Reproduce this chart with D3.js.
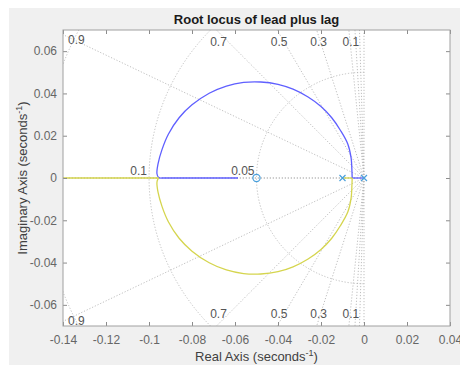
<!DOCTYPE html>
<html lang="en">
  <head>
    <meta charset="UTF-8" />
    <title>Root locus of lead plus lag</title>
    <style>
      body {
        margin: 0;
        background: #fff;
        font-family: Arial, "Liberation Sans", Helvetica, sans-serif;
      }
      .grid {
        fill: none;
        stroke: #b8b8b8;
        stroke-width: 0.9px;
        stroke-dasharray: 1.2, 1.8;
      }
      .gridlabel {
        font-size: 12px;
        fill: #555;
      }
      .tick text {
        font-size: 12px;
        fill: #666;
      }
      .tick line {
        stroke: #8c8c8c;
      }
      .locus {
        fill: none;
        stroke-width: 1.3px;
      }
    </style>
  </head>
  <body>
    <svg width="460" height="367"></svg>

    <script src="https://d3js.org/d3.v7.min.js"></script>
    <script>
      // values
      const xTicks = [-0.14, -0.12, -0.1, -0.08, -0.06, -0.04, -0.02, 0, 0.02, 0.04];
      const yTicks = [-0.06, -0.04, -0.02, 0, 0.02, 0.04, 0.06];

      const poles = [-0.01, 0];
      const zeros = [-0.05];

      // branch starting at the pole in 0 (upper half, then to the zero)
      const branch1Re = [0, -0.0055, -0.0056, -0.006, -0.0075, -0.011, -0.015, -0.02, -0.026, -0.033, -0.04, -0.048, -0.056, -0.064, -0.072, -0.08, -0.086, -0.091, -0.094, -0.0958, -0.0963, -0.0955, -0.094, -0.0586];
      const branch1Im = [0, 0, 0.003, 0.0095, 0.016, 0.0226, 0.0285, 0.0338, 0.0383, 0.042, 0.0443, 0.0454, 0.0452, 0.0435, 0.0401, 0.0346, 0.0285, 0.0207, 0.0133, 0.0067, 0.002, 0.0002, 0, 0];

      // branch starting at the pole in -0.01 (lower half, then to -inf)
      const branch2Re = [-0.01, -0.0055, -0.0056, -0.006, -0.0075, -0.011, -0.015, -0.02, -0.026, -0.033, -0.04, -0.048, -0.056, -0.064, -0.072, -0.08, -0.086, -0.091, -0.094, -0.0958, -0.0963, -0.0958, -0.0955, -0.14];
      const branch2Im = [0, 0, -0.003, -0.0095, -0.016, -0.0226, -0.0285, -0.0338, -0.0383, -0.042, -0.0443, -0.0454, -0.0452, -0.0435, -0.0401, -0.0346, -0.0285, -0.0207, -0.0133, -0.0067, -0.002, -0.0004, 0, 0];

      // sgrid
      const dampLines = [0, 0.03, 0.06, 0.1, 0.3, 0.5, 0.7, 0.9, 1];
      const dampLabels = [0.1, 0.3, 0.5, 0.7, 0.9];
      const wnLines = [0.05, 0.1, 0.15];

      const L = 63, R = 450, T = 30, B = 326;
      const svg = d3.select("svg");

      svg.append("rect")
        .attr("x", 9).attr("y", 8)
        .attr("width", 451).attr("height", 357)
        .attr("fill", "#f0f0f0");

      svg.append("rect")
        .attr("x", L).attr("y", T)
        .attr("width", R - L).attr("height", B - T)
        .attr("fill", "#fff");

      const x = d3.scaleLinear().domain([-0.14, 0.04]).range([L, R]);
      const y = d3.scaleLinear().domain([-0.07, 0.07]).range([B, T]);

      svg.append("clipPath").attr("id", "plot")
        .append("rect")
        .attr("x", L).attr("y", T)
        .attr("width", R - L).attr("height", B - T);

      const g = svg.append("g").attr("clip-path", "url(#plot)");

      // damping rays
      dampLines.forEach((z) => {
        const s = Math.sqrt(1 - z * z);
        [1, -1].forEach((sign) => {
          g.append("line")
            .attr("class", "grid")
            .attr("x1", x(0)).attr("y1", y(0))
            .attr("x2", x(-z)).attr("y2", y(sign * s));
        });
      });

      // natural frequency arcs (left half plane)
      wnLines.forEach((w) => {
        const rx = x(0) - x(-w), ry = y(0) - y(w);
        g.append("path")
          .attr("class", "grid")
          .attr("d", `M${x(0)},${y(w)} A${rx},${ry} 0 0 0 ${x(0)},${y(-w)}`);
      });

      // damping labels
      dampLabels.forEach((z) => {
        const s = Math.sqrt(1 - z * z);
        const xTop = -0.07 * z / s;
        if (xTop >= -0.14) {
          g.append("text").attr("class", "gridlabel")
            .attr("text-anchor", "middle")
            .attr("x", x(xTop) + 2).attr("y", T + 16).text(z);
          g.append("text").attr("class", "gridlabel")
            .attr("text-anchor", "middle")
            .attr("x", x(xTop) + 2).attr("y", B - 8).text(z);
        } else {
          const yHit = 0.14 * s / z;
          g.append("text").attr("class", "gridlabel")
            .attr("x", L + 5).attr("y", y(yHit) + 9).text(z);
          g.append("text").attr("class", "gridlabel")
            .attr("x", L + 5).attr("y", y(-yHit) + 4).text(z);
        }
      });

      // natural frequency labels
      wnLines.filter((w) => -w >= -0.14).forEach((w) => {
        g.append("text").attr("class", "gridlabel")
          .attr("text-anchor", "end")
          .attr("x", x(-w) - 2).attr("y", y(0) - 3).text(w);
      });

      // locus branches: straight on the real axis, smooth off it
      const straight = d3.line().x((d) => x(d[0])).y((d) => y(d[1]));
      const smooth = d3.line().x((d) => x(d[0])).y((d) => y(d[1]))
        .curve(d3.curveCatmullRom.alpha(0.5));

      function drawBranch(re, im, color) {
        const pts = d3.zip(re, im);
        const onAxis = pts.map((p) => p[1] === 0);
        // first and last index of the off-axis part
        const i0 = onAxis.indexOf(false) - 1;
        const i1 = onAxis.lastIndexOf(false) + 1;
        const parts = [
          straight(pts.slice(0, i0 + 1)),
          smooth(pts.slice(i0, i1 + 1)),
          straight(pts.slice(i1)),
        ];
        parts.forEach((d) => {
          g.append("path").attr("class", "locus")
            .attr("stroke", color).attr("d", d);
        });
      }
      drawBranch(branch1Re, branch1Im, "#5f5fff");
      drawBranch(branch2Re, branch2Im, "#d5d54e");

      // poles and zeros
      const mk = "#4aa0dc";
      g.selectAll(".pole").data(poles).join("path")
        .attr("class", "pole")
        .attr("transform", (d) => `translate(${x(d)},${y(0)})`)
        .attr("d", "M-3,-3L3,3M-3,3L3,-3")
        .attr("stroke", mk).attr("stroke-width", 1.2);
      g.selectAll(".zero").data(zeros).join("circle")
        .attr("class", "zero")
        .attr("cx", (d) => x(d)).attr("cy", y(0)).attr("r", 3.6)
        .attr("fill", "none")
        .attr("stroke", mk).attr("stroke-width", 1.2);

      // axes, MATLAB style ticks inside
      const fmt = (d) => String(Math.round(d * 100) / 100);
      svg.append("g").attr("transform", `translate(0,${B})`)
        .call(d3.axisBottom(x).tickValues(xTicks).tickSize(-4).tickPadding(9).tickFormat(fmt))
        .call((a) => a.select(".domain").remove());
      svg.append("g").attr("transform", `translate(0,${T})`)
        .call(d3.axisTop(x).tickValues(xTicks).tickSize(-4).tickFormat(""))
        .call((a) => a.select(".domain").remove());
      svg.append("g").attr("transform", `translate(${L},0)`)
        .call(d3.axisLeft(y).tickValues(yTicks).tickSize(-4).tickPadding(6).tickFormat(fmt))
        .call((a) => a.select(".domain").remove());
      svg.append("g").attr("transform", `translate(${R},0)`)
        .call(d3.axisRight(y).tickValues(yTicks).tickSize(-4).tickFormat(""))
        .call((a) => a.select(".domain").remove());

      svg.selectAll(".tick text").attr("font-family", null);

      svg.append("rect")
        .attr("x", L).attr("y", T)
        .attr("width", R - L).attr("height", B - T)
        .attr("fill", "none")
        .attr("stroke", "#a0a0a0");

      // title and axis labels
      svg.append("text")
        .attr("x", (L + R) / 2).attr("y", 24)
        .attr("text-anchor", "middle")
        .attr("font-size", 13).attr("font-weight", "bold")
        .attr("fill", "#1a1a1a")
        .text("Root locus of lead plus lag");

      const xl = svg.append("text")
        .attr("x", (L + R) / 2).attr("y", 361)
        .attr("text-anchor", "middle")
        .attr("font-size", 13).attr("fill", "#404040");
      xl.append("tspan").text("Real Axis (seconds");
      xl.append("tspan").attr("font-size", 9).attr("dy", -5).text("-1");
      xl.append("tspan").attr("dy", 5).text(")");

      const yl = svg.append("text")
        .attr("transform", `translate(27,${(T + B) / 2}) rotate(-90)`)
        .attr("text-anchor", "middle")
        .attr("font-size", 13).attr("fill", "#404040");
      yl.append("tspan").text("Imaginary Axis (seconds");
      yl.append("tspan").attr("font-size", 9).attr("dy", -5).text("-1");
      yl.append("tspan").attr("dy", 5).text(")");
    </script>
  </body>
</html>
